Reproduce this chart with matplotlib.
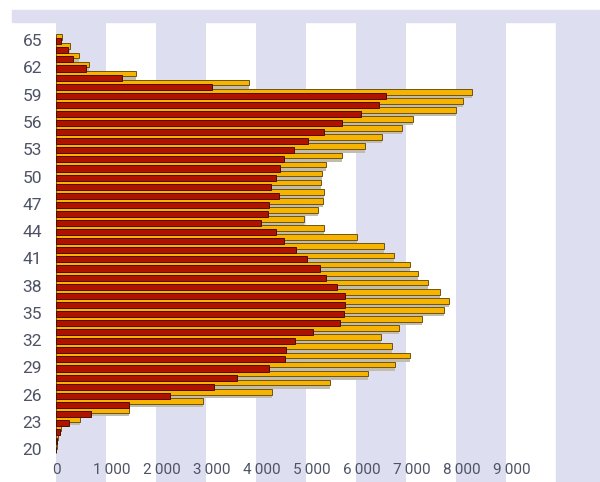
import matplotlib
matplotlib.use("Agg")
import matplotlib.pyplot as plt
import matplotlib.transforms as mtransforms
from matplotlib.patches import Rectangle
import numpy as np

# ages 20..65
ages = list(range(20, 66))

# orange (longer) series
orange = [10, 30, 90, 480, 1460, 2930, 4320, 5470, 6230, 6780,
          7070, 6710, 6500, 6860, 7310, 7760, 7850, 7670, 7430, 7230,
          7070, 6750, 6550, 6010, 5350, 4950, 5230, 5340, 5360, 5290,
          5320, 5390, 5710, 6170, 6520, 6920, 7130, 7990, 8140, 8310,
          3850, 1600, 650, 450, 270, 120]

# dark red (shorter) series
red = [5, 15, 70, 250, 700, 1450, 2280, 3160, 3610, 4250,
       4570, 4590, 4780, 5130, 5680, 5760, 5780, 5770, 5620, 5390,
       5280, 5010, 4800, 4560, 4390, 4100, 4230, 4250, 4460, 4300,
       4390, 4480, 4560, 4760, 5030, 5350, 5710, 6090, 6460, 6600,
       3120, 1310, 590, 330, 230, 90]

y_ticks = list(range(20, 66, 3))
x_ticks = list(range(0, 10000, 1000))
x_labels = ["0"] + ["%d\u2009000" % (v // 1000) for v in x_ticks[1:]]

lavender = "#dddff0"
plt.rcParams['font.family'] = ['Roboto', 'DejaVu Sans']

fig = plt.figure(figsize=(6, 4.82), dpi=100, facecolor="white")

# lavender frame bits outside the plot (top strip and right strip)
fig.patches.append(Rectangle((12 / 600, 1 - 22 / 482), 588 / 600, 12 / 482,
                             transform=fig.transFigure, color=lavender, zorder=0))
fig.patches.append(Rectangle((556 / 600, 0), 44 / 600, 1 - 22 / 482,
                             transform=fig.transFigure, color=lavender, zorder=0))

ax = fig.add_axes([56 / 600, 0, 500 / 600, 1 - 22 / 482])
ax.set_facecolor("white")
for k in range(0, 10, 2):
    ax.axvspan(k * 1000, (k + 1) * 1000, color=lavender, lw=0, zorder=0)

a = np.array(ages)
# shadow under orange bars, orange bars, then red bars overlapping
ax.barh(a - 0.17, orange, height=0.38, left=0, color="#c2bcae", lw=0, zorder=1)
ax.barh(a + 0.33, orange, height=0.62, color="#f6b400", edgecolor="#6e5410",
        linewidth=0.7, zorder=2)
ax.barh(a - 0.115, red, height=0.67, color="#b01200", edgecolor="#4f0c00",
        linewidth=0.7, zorder=3)

ax.set_xlim(0, 10000)
ax.set_ylim(16.4, 67)
ax.set_yticks(y_ticks)
ax.set_yticklabels([str(v) for v in y_ticks], fontsize=12.5, color="#4e5366")
ax.set_xticks(x_ticks)
ax.set_xticklabels(x_labels, fontsize=11, color="#4e5366")
ax.tick_params(axis="y", length=0, pad=10)
ax.tick_params(axis="x", length=0, pad=-14)
for lab in ax.get_xticklabels()[1:]:
    lab.set_transform(lab.get_transform() +
                      mtransforms.ScaledTranslation(6 / 100, 0, fig.dpi_scale_trans))
for s in ax.spines.values():
    s.set_visible(False)

fig.savefig("out.png", dpi=100, facecolor="white")
